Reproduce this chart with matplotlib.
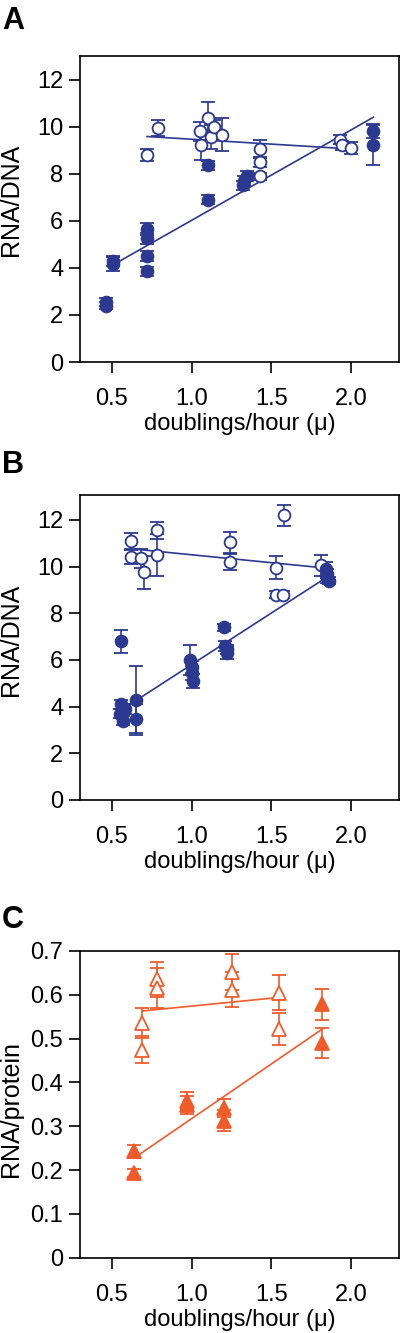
import numpy as np
from matplotlib import pyplot as plt

plt.rcParams['font.family'] = ['Liberation Sans', 'DejaVu Sans']

""" Data read from the figure """
# Panel A (RNA/DNA), filled circles
a_fill_x = [0.46, 0.46, 0.51, 0.51, 0.72, 0.72, 0.72, 0.72, 1.10, 1.10, 1.32, 1.33, 1.35, 2.14, 2.14]
a_fill_y = [2.40, 2.55, 4.15, 4.30, 5.65, 5.25, 4.50, 3.85, 8.35, 6.90, 7.50, 7.70, 7.90, 9.80, 9.20]
a_fill_e = [0.15, 0.15, 0.30, 0.20, 0.25, 0.25, 0.20, 0.20, 0.20, 0.20, 0.20, 0.20, 0.20, 0.30, 0.85]
# Panel A, open circles
a_open_x = [0.72, 0.79, 1.05, 1.06, 1.10, 1.12, 1.14, 1.19, 1.43, 1.43, 1.43, 1.93, 1.94, 2.00]
a_open_y = [8.80, 9.95, 9.80, 9.20, 10.35, 9.55, 10.00, 9.65, 9.05, 8.50, 7.90, 9.45, 9.20, 9.10]
a_open_e = [0.25, 0.35, 0.40, 0.60, 0.70, 0.50, 0.30, 0.70, 0.40, 0.20, 0.15, 0.20, 0.20, 0.25]
# Panel A fit lines
a_fill_fit_x = [0.50, 2.14]
a_fill_fit_y = [4.10, 10.40]
a_open_fit_x = [0.72, 2.00]
a_open_fit_y = [9.58, 9.05]

# Panel B (RNA/DNA), filled circles
b_fill_x = [0.55, 0.56, 0.57, 0.58, 0.56, 0.65, 0.65, 0.99, 1.00, 1.00, 1.01, 1.20, 1.21, 1.22, 1.22, 1.84, 1.85, 1.85, 1.86]
b_fill_y = [3.70, 4.10, 3.40, 3.90, 6.80, 4.30, 3.45, 6.00, 5.70, 5.45, 5.10, 7.40, 6.60, 6.30, 6.45, 9.90, 9.70, 9.50, 9.40]
b_fill_e = [0.20, 0.20, 0.20, 0.20, 0.50, 1.45, 0.65, 0.65, 0.25, 0.30, 0.30, 0.15, 0.20, 0.25, 0.20, 0.30, 0.20, 0.20, 0.15]
# Panel B, open circles
b_open_x = [0.62, 0.62, 0.68, 0.70, 0.78, 0.78, 1.24, 1.24, 1.53, 1.58, 1.53, 1.57, 1.81]
b_open_y = [11.10, 10.40, 10.35, 9.75, 11.55, 10.50, 11.05, 10.20, 9.95, 12.20, 8.80, 8.80, 10.05]
b_open_e = [0.35, 0.30, 0.40, 0.70, 0.35, 0.90, 0.45, 0.35, 0.50, 0.45, 0.15, 0.15, 0.45]
# Panel B fit lines
b_fill_fit_x = [0.66, 1.86]
b_fill_fit_y = [4.30, 9.60]
b_open_fit_x = [0.64, 1.82]
b_open_fit_y = [10.75, 9.95]

# Panel C (RNA/protein), filled triangles
c_fill_x = [0.64, 0.64, 0.97, 0.97, 1.20, 1.20, 1.82, 1.82]
c_fill_y = [0.243, 0.193, 0.357, 0.349, 0.342, 0.313, 0.578, 0.490]
c_fill_e = [0.015, 0.010, 0.020, 0.020, 0.020, 0.025, 0.035, 0.035]
# Panel C, open triangles
c_open_x = [0.69, 0.69, 0.78, 0.78, 1.25, 1.25, 1.55, 1.55]
c_open_y = [0.535, 0.475, 0.635, 0.615, 0.652, 0.612, 0.605, 0.522]
c_open_e = [0.034, 0.030, 0.040, 0.045, 0.040, 0.040, 0.040, 0.037]
# Panel C fit lines
c_fill_fit_x = [0.67, 1.82]
c_fill_fit_y = [0.235, 0.522]
c_open_fit_x = [0.69, 1.55]
c_open_fit_y = [0.563, 0.594]

x_ticks = [0.5, 1.0, 1.5, 2.0]
x_labels = ['0.5', '1.0', '1.5', '2.0']
dna_ticks = [0, 2, 4, 6, 8, 10, 12]
prot_ticks = [0, 0.1, 0.2, 0.3, 0.4, 0.5, 0.6, 0.7]
prot_labels = ['0', '0.1', '0.2', '0.3', '0.4', '0.5', '0.6', '0.7']

blue = '#2b3990'
orange = '#f15a29'

fig = plt.figure(figsize=(4, 13.33), dpi=100)


def panel(rect, letter, letter_y, ylabel, ylabel_y, color, marker, ms,
          fill, opn, fits, yticks, ylabels, ylim):
    ax = fig.add_axes(rect)
    for (fx, fy) in fits:
        ax.plot(fx, fy, color=color, lw=1.2, zorder=2)
    for (x, y, e), face in [(opn, 'white'), (fill, color)]:
        ax.errorbar(x, y, yerr=e, fmt=marker, ms=ms, mfc=face, mec=color,
                    mew=1.3, ecolor=color, elinewidth=1.2, capsize=5,
                    capthick=1.2, zorder=3)
    ax.set_xlim(0.3, 2.3)
    ax.set_ylim(*ylim)
    ax.set_xticks(x_ticks)
    ax.set_xticklabels(x_labels)
    ax.set_yticks(yticks)
    ax.set_yticklabels(ylabels)
    ax.tick_params(direction='out', length=8, width=1.2, labelsize=17)
    ax.tick_params(axis='x', pad=11)
    ax.tick_params(axis='y', pad=4)
    for s in ax.spines.values():
        s.set_linewidth(1.2)
    ax.set_xlabel('doublings/hour (\u03bc)', fontsize=17, labelpad=2)
    ax.set_ylabel(ylabel, fontsize=18)
    ax.yaxis.set_label_coords(-0.18, ylabel_y)
    fig.text(0.005, letter_y, letter, fontsize=22, fontweight='bold',
             va='center', ha='left')
    return ax


panel([0.2, 0.7284, 0.7975, 0.2296], 'A', 0.984, 'RNA/DNA', 0.53, blue, 'o', 8.5,
      (a_fill_x, a_fill_y, a_fill_e), (a_open_x, a_open_y, a_open_e),
      [(a_fill_fit_x, a_fill_fit_y), (a_open_fit_x, a_open_fit_y)],
      dna_ticks, [str(t) for t in dna_ticks], (0, 13))

panel([0.2, 0.3999, 0.7975, 0.2288], 'B', 0.651, 'RNA/DNA', 0.525, blue, 'o', 8.5,
      (b_fill_x, b_fill_y, b_fill_e), (b_open_x, b_open_y, b_open_e),
      [(b_fill_fit_x, b_fill_fit_y), (b_open_fit_x, b_open_fit_y)],
      dna_ticks, [str(t) for t in dna_ticks], (0, 13.07))

panel([0.2, 0.0565, 0.7975, 0.2301], 'C', 0.310, 'RNA/protein', 0.485, orange, '^', 9.5,
      (c_fill_x, c_fill_y, c_fill_e), (c_open_x, c_open_y, c_open_e),
      [(c_fill_fit_x, c_fill_fit_y), (c_open_fit_x, c_open_fit_y)],
      prot_ticks, prot_labels, (0, 0.7))

plt.savefig('out.png', dpi=100)
